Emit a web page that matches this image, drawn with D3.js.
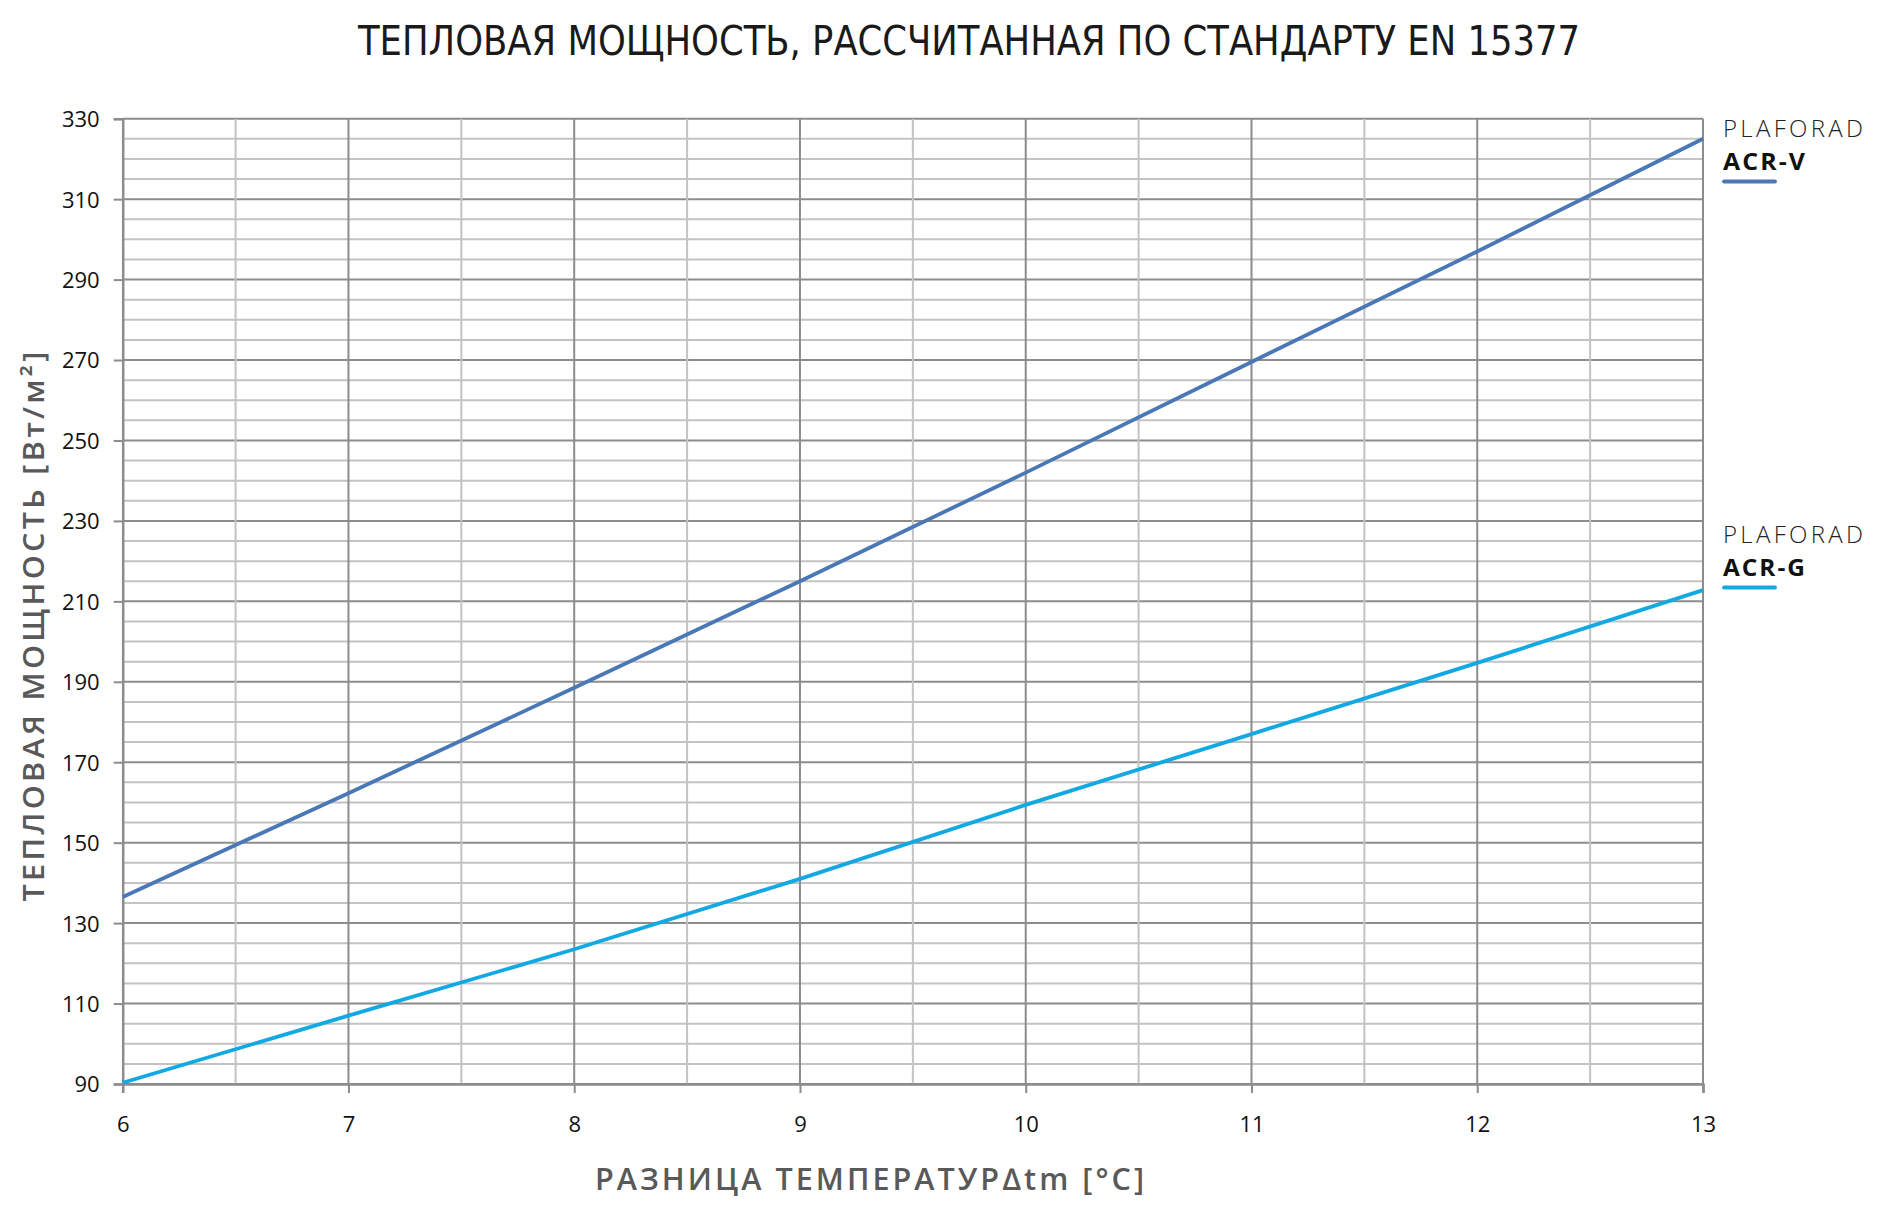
<!DOCTYPE html>
<html>
<head>
<meta charset="utf-8">
<script src="https://cdn.jsdelivr.net/npm/d3@7"></script>
<style>
  html, body { margin: 0; padding: 0; background: #fff; }
  svg { display: block; }
</style>
</head>
<body>
<svg id="chart" width="1884" height="1205"></svg>
<script>
// ---- data ----
const xValues = [6, 7, 8, 9, 10, 11, 12, 13];
const acrV = [136.5, 162.3, 188.5, 215, 242, 269.5, 297, 325];
const acrG = [90.3, 107, 123.5, 141, 159.4, 177, 194.7, 212.8];
const seriesNames = ["ACR-V", "ACR-G"];
const brandName = "PLAFORAD";
const xTicks = [6, 7, 8, 9, 10, 11, 12, 13];
const yTicks = [90, 110, 130, 150, 170, 190, 210, 230, 250, 270, 290, 310, 330];
const titleText = "ТЕПЛОВАЯ МОЩНОСТЬ, РАССЧИТАННАЯ ПО СТАНДАРТУ EN 15377";
const yLabelText = "ТЕПЛОВАЯ МОЩНОСТЬ  [Вт/м²]";
const xLabelText = "РАЗНИЦА ТЕМПЕРАТУР∆tm [°C]";

// ---- layout ----
const svg = d3.select("#chart");
const pLeft = 122.7, pRight = 1703, pTop = 118.7, pBottom = 1084;
const x = d3.scaleLinear().domain([6, 13]).range([pLeft, pRight]);
const y = d3.scaleLinear().domain([90, 330]).range([pBottom, pTop]);

const colMajor = "#8c8c8c", colMinor = "#c3c3c3";
const colors = ["#4a78b6", "#12a9e3"];

// gridlines
const g = svg.append("g");
const hVals = d3.range(90, 331, 5);
g.selectAll("line.h").data(hVals).join("line")
  .attr("class", "h")
  .attr("x1", pLeft).attr("x2", pRight)
  .attr("y1", d => y(d)).attr("y2", d => y(d))
  .attr("stroke", d => ((d - 90) % 20 === 0) ? colMajor : colMinor)
  .attr("stroke-width", 2);
const vVals = d3.range(6.5, 13.01, 0.5);
g.selectAll("line.v").data(vVals).join("line")
  .attr("class", "v")
  .attr("y1", pTop).attr("y2", pBottom)
  .attr("x1", d => x(d)).attr("x2", d => x(d))
  .attr("stroke", d => Number.isInteger(d) ? colMajor : colMinor)
  .attr("stroke-width", 2);

// axes
const yAxis = d3.axisLeft(y).tickValues(yTicks).tickFormat(d3.format("d")).tickSize(9).tickPadding(14);
const ya = svg.append("g").attr("transform", `translate(${pLeft},0)`).call(yAxis);
const xAxis = d3.axisBottom(x).tickValues(xTicks).tickFormat(d3.format("d")).tickSize(9).tickPadding(23);
const xa = svg.append("g").attr("transform", `translate(0,${pBottom})`).call(xAxis);
[ya, xa].forEach(a => {
  a.select(".domain").attr("stroke", colMajor).attr("stroke-width", 2.5);
  a.selectAll(".tick line").attr("stroke", colMajor).attr("stroke-width", 2);
  a.selectAll(".tick text").attr("fill", "#111")
    .style("font-family", "'Open Sans', sans-serif").style("font-size", "22px");
});
ya.selectAll(".tick text").attr("dy", "0.36em");

// lines
const line = d3.line().x((d, i) => x(xValues[i])).y(d => y(d));
[acrV, acrG].forEach((s, i) => {
  svg.append("path").datum(s)
    .attr("d", line)
    .attr("fill", "none")
    .attr("stroke", colors[i])
    .attr("stroke-width", 3.8)
    .attr("stroke-linejoin", "round");
});

// title
svg.append("text")
  .attr("x", 358).attr("y", 55)
  .attr("textLength", 1222).attr("lengthAdjust", "spacingAndGlyphs")
  .style("font-family", "'DejaVu Sans Condensed', 'Open Sans', sans-serif")
  .style("font-size", "40px").attr("fill", "#1a1a1a")
  .text(titleText);

// y label
svg.append("text")
  .attr("transform", "translate(44,625) rotate(-90)")
  .attr("text-anchor", "middle")
  .attr("textLength", 553).attr("lengthAdjust", "spacingAndGlyphs")
  .style("font-family", "'Open Sans', sans-serif").style("font-weight", "600")
  .style("font-size", "28px").style("letter-spacing", "3px").attr("fill", "#595959")
  .text(yLabelText);

// x label
svg.append("text")
  .attr("x", 595).attr("y", 1190)
  .attr("textLength", 552).attr("lengthAdjust", "spacingAndGlyphs")
  .style("font-family", "'Open Sans', sans-serif").style("font-weight", "600")
  .style("font-size", "30px").style("letter-spacing", "3px").attr("fill", "#595959")
  .text(xLabelText);

// legend
const legendY = [137, 543];
seriesNames.forEach((name, i) => {
  const lg = svg.append("g").attr("transform", `translate(1723,${legendY[i]})`);
  lg.append("text").attr("x", 0).attr("y", 0)
    .attr("textLength", 140).attr("lengthAdjust", "spacing")
    .style("font-family", "'Open Sans', sans-serif").style("font-weight", "300")
    .style("font-size", "24px").attr("fill", "#222").text(brandName);
  lg.append("text").attr("x", 0).attr("y", 33)
    .attr("textLength", 84).attr("lengthAdjust", "spacingAndGlyphs")
    .style("font-family", "'Open Sans', sans-serif").style("font-weight", "bold")
    .style("font-size", "24px").style("letter-spacing", "2px").attr("fill", "#111").text(name);
  lg.append("line").attr("x1", 1).attr("x2", 52).attr("y1", 44.5).attr("y2", 44.5)
    .attr("stroke", colors[i]).attr("stroke-width", 3.8).attr("stroke-linecap", "round");
});
</script>
</body>
</html>
